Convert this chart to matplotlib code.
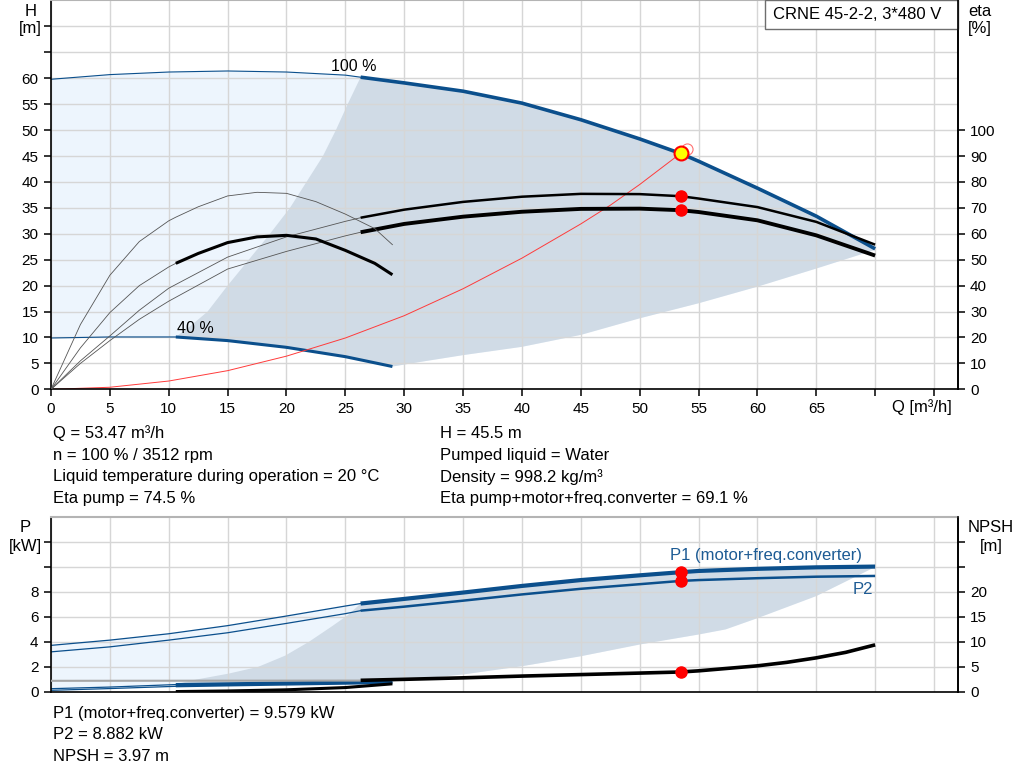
import numpy as np
import matplotlib.pyplot as plt
from matplotlib.patches import Rectangle

plt.rcParams['font.family'] = ['Liberation Sans', 'DejaVu Sans']
plt.rcParams['font.size'] = 12

# --- données (Q en m3/h) ---
# courbe QH à 100 % de vitesse
q_100 = [0, 5, 10, 15, 20, 25, 26.3, 30, 35, 40, 45, 50, 53.47, 55, 60, 65, 70]
h_100 = [59.8, 60.7, 61.2, 61.4, 61.2, 60.6, 60.2, 59.1, 57.5, 55.2, 52.0, 48.3, 45.5, 44.0, 38.8, 33.4, 27.1]

# courbe QH à 40 %
q_40 = [0, 5, 10.6, 15, 20, 25, 29]
h_40 = [9.9, 10.1, 10.1, 9.4, 8.1, 6.3, 4.4]

# limite basse de la plage de fonctionnement (QH)
q_edge = [29, 31.4, 35, 40, 45, 50, 55, 60, 65, 70]
h_edge = [4.4, 5.3, 6.6, 8.2, 10.5, 13.7, 16.6, 19.8, 23.3, 26.9]

# limite débit mini (QH)
q_min = [10.6, 12.0, 13.3, 15.0, 16.8, 18.6, 20.3, 21.7, 23.1, 24.2, 25.2, 26.3]
h_min = [10.1, 12.5, 15, 20, 25, 30, 35, 40, 45, 50, 55, 60.2]

# rendements (%)
q_eta100 = [0, 2.5, 5, 7.5, 10, 15, 20, 25, 26.3, 30, 35, 40, 45, 50, 53.47, 55, 60, 65, 70]
eta_pump_100 = [0, 11, 20.6, 30.5, 39, 51, 58.8, 64.8, 66.2, 69.3, 72.3, 74.3, 75.4, 75.3, 74.5, 73.6, 70.3, 64.6, 55.8]
eta_total_100 = [0, 10, 18.8, 27, 34, 46.4, 53.2, 59.2, 60.6, 63.8, 66.6, 68.5, 69.6, 69.7, 69.1, 68.4, 65.2, 59.4, 51.6]

q_eta40 = [0, 2.5, 5, 7.5, 10, 10.6, 12.5, 15, 17.5, 20, 22.5, 25, 27.5, 29]
eta_pump_40 = [0, 25, 44, 57, 65, 66.4, 70.4, 74.6, 76, 75.6, 72.4, 67.6, 62, 55.8]
eta_total_40 = [0, 16, 29.6, 40, 47.2, 48.6, 52.4, 56.6, 58.8, 59.4, 58, 53.6, 48.6, 44.2]

# courbe de réseau (rouge)
q_sys = [0, 5, 10, 15, 20, 25, 30, 35, 40, 42.5, 45, 47.5, 50, 53.47, 54.0]
h_sys = [0, 0.4, 1.6, 3.6, 6.4, 9.9, 14.2, 19.4, 25.3, 28.6, 31.9, 35.5, 39.5, 45.5, 46.3]

# point de fonctionnement
q_duty = 53.47
h_duty = 45.5
eta_pump_duty = 74.5
eta_total_duty = 69.1
p1_duty = 9.579
p2_duty = 8.882
npsh_duty = 3.97

# puissances (kW)
q_p100 = [0, 5, 10, 15, 20, 25, 26.3, 30, 35, 40, 45, 50, 53.47, 55, 60, 65, 70]
p1_100 = [3.72, 4.14, 4.65, 5.3, 6.07, 6.87, 7.07, 7.44, 7.95, 8.48, 8.95, 9.33, 9.58, 9.68, 9.85, 9.97, 10.03]
p2_100 = [3.2, 3.6, 4.14, 4.73, 5.48, 6.26, 6.5, 6.82, 7.3, 7.8, 8.25, 8.62, 8.88, 8.95, 9.1, 9.22, 9.28]

q_p40 = [0, 5, 10.6, 15, 20, 25, 29]
p1_40 = [0.25, 0.38, 0.58, 0.64, 0.71, 0.78, 0.84]
p2_40 = [0.12, 0.26, 0.44, 0.51, 0.58, 0.65, 0.71]

q_pedge = [29, 35, 40, 45, 50, 55, 57.3, 60, 65, 70]
p_edge = [0.84, 1.39, 2.05, 2.85, 3.79, 4.59, 5.0, 5.9, 7.67, 10.0]

q_pmin = [10.6, 11.7, 15.1, 17.6, 19.9, 21.9, 23.9, 25.3, 26.3]
p_min = [0.58, 0.87, 1.46, 2.0, 2.9, 4.0, 5.27, 6.2, 7.07]

# NPSH (m)
q_npsh_thin = [0, 26.3]
npsh_thin = [2.2, 2.25]
q_npsh100 = [26.3, 30, 35, 40, 45, 50, 53.47, 55, 60, 62.5, 65, 67.5, 70]
npsh_100 = [2.3, 2.5, 2.8, 3.15, 3.45, 3.75, 3.97, 4.2, 5.2, 5.9, 6.8, 7.9, 9.4]
q_npsh40 = [10.6, 15, 20, 25, 29]
npsh_40 = [0.05, 0.17, 0.4, 0.85, 1.6]

BLUE = '#0b4f8c'
LIGHT = '#edf5fd'
DARK = '#d0dbe6'
GRID = '#d6d6d6'
Q_SPLIT = 26.3
Q_SPLIT40 = 10.6


def split_plot(ax, q, y, q_split, color, lw_thin, lw_thick, thin_color=None):
    q = np.asarray(q)
    y = np.asarray(y)
    thin = q <= q_split
    thick = q >= q_split
    ax.plot(q[thin], y[thin], color=thin_color or color, lw=lw_thin)
    ax.plot(q[thick], y[thick], color=color, lw=lw_thick, solid_capstyle='butt')


def region(q_top, y_top, q_low, y_low, q_bot, y_bot, q_left=None, y_left=None, q_from=None):
    # polygone : courbe haute -> limite basse -> courbe mini vitesse (-> limite débit mini)
    q_top, y_top = np.asarray(q_top), np.asarray(y_top)
    q_bot, y_bot = np.asarray(q_bot), np.asarray(y_bot)
    if q_from is not None:
        m = q_top >= q_from
        q_top, y_top = q_top[m], y_top[m]
        m = q_bot >= q_left[0]
        q_bot, y_bot = q_bot[m], y_bot[m]
    xs = [q_top, np.asarray(q_low)[::-1], q_bot[::-1]]
    ys = [y_top, np.asarray(y_low)[::-1], y_bot[::-1]]
    if q_left is not None:
        xs.append(np.asarray(q_left))
        ys.append(np.asarray(y_left))
    return np.concatenate(xs), np.concatenate(ys)


fig = plt.figure(figsize=(10.24, 7.81), dpi=100)
ax = fig.add_axes([0.0498, 0.5015, 0.8853, 0.4979])
ax_eta = ax.twinx()
axp = fig.add_axes([0.0498, 0.1142, 0.8853, 0.2238])
ax_npsh = axp.twinx()

# ---------------- graphique QH ----------------
x, y = region(q_100, h_100, q_edge, h_edge, q_40, h_40)
ax.fill(x, y, color=LIGHT, lw=0, zorder=0.5)
x, y = region(q_100, h_100, q_edge, h_edge, q_40, h_40, q_min, h_min, q_from=Q_SPLIT)
ax.fill(x, y, color=DARK, lw=0, zorder=0.6)

split_plot(ax, q_100, h_100, Q_SPLIT, BLUE, 0.8, 2.6)
split_plot(ax, q_40, h_40, Q_SPLIT40, BLUE, 0.8, 2.2)
ax.text(23.8, 61.4, '100 %', ha='left', va='baseline', fontsize=11.5)
ax.text(10.7, 10.9, '40 %', ha='left', va='baseline', fontsize=11.5)

ax.plot(q_sys, h_sys, color='#ff3b3b', lw=0.7)
ax.plot(q_sys[-1], h_sys[-1], 'o', ms=8, mfc='none', mec='#ff7070', mew=0.8)
ax.plot(q_duty, h_duty, 'o', ms=10, mfc='#ffff00', mec='#ff0000', mew=1.5, zorder=5)

# rendements sur l'axe de droite
split_plot(ax_eta, q_eta100, eta_pump_100, Q_SPLIT, 'black', 0.6, 1.8, thin_color='#555555')
split_plot(ax_eta, q_eta100, eta_total_100, Q_SPLIT, 'black', 0.6, 2.8, thin_color='#555555')
ax_eta.plot(q_eta40, eta_pump_40, color='#555555', lw=0.6)
split_plot(ax_eta, q_eta40, eta_total_40, Q_SPLIT40, 'black', 0.6, 2.2, thin_color='#555555')
ax_eta.plot([q_duty, q_duty], [eta_pump_duty, eta_total_duty], 'o', ms=8, color='#ff0000', zorder=5)

ax.set_xlim(0, 77)
ax.set_ylim(0, 75)
ax_eta.set_ylim(0, 150)

ax.set_xticks(np.arange(0, 76, 5))
ax.set_xticklabels([str(v) if v <= 65 else '' for v in range(0, 76, 5)])
ax.set_yticks(np.arange(0, 71, 5))
ax.set_yticklabels([str(v) if v <= 60 else '' for v in range(0, 71, 5)])
ax_eta.set_yticks(np.arange(0, 101, 10))
ax.grid(True, color=GRID, lw=1)

# ---------------- graphique P / NPSH ----------------
x, y = region(q_p100, p1_100, q_pedge, p_edge, q_p40, p1_40)
axp.fill(x, y, color=LIGHT, lw=0, zorder=0.5)
x, y = region(q_p100, p1_100, q_pedge, p_edge, q_p40, p1_40, q_pmin, p_min, q_from=Q_SPLIT)
axp.fill(x, y, color=DARK, lw=0, zorder=0.6)

split_plot(axp, q_p100, p1_100, Q_SPLIT, BLUE, 0.9, 3.0)
split_plot(axp, q_p100, p2_100, Q_SPLIT, BLUE, 0.9, 1.8)
split_plot(axp, q_p40, p1_40, Q_SPLIT40, BLUE, 0.9, 2.2)
split_plot(axp, q_p40, p2_40, Q_SPLIT40, BLUE, 0.9, 1.5)
axp.plot([q_duty, q_duty], [p1_duty, p2_duty], 'o', ms=8, color='#ff0000', zorder=5)
axp.text(52.6, 10.9, 'P1 (motor+freq.converter)', color='#1d5b94', ha='left', va='center')
axp.text(68.1, 8.2, 'P2', color='#1d5b94', ha='left', va='center')

ax_npsh.plot(q_npsh_thin, npsh_thin, color='#a6a6a6', lw=1.5)
ax_npsh.plot(q_npsh100, npsh_100, color='black', lw=2.6, solid_capstyle='butt')
ax_npsh.plot(q_npsh40, npsh_40, color='black', lw=2.2, solid_capstyle='butt')
ax_npsh.plot(q_duty, npsh_duty, 'o', ms=8, color='#ff0000', zorder=5)

axp.set_xlim(0, 77)
axp.set_ylim(0, 14)
ax_npsh.set_ylim(0, 35)
axp.set_xticks(np.arange(0, 76, 5))
axp.set_xticklabels([])
axp.set_yticks(np.arange(0, 13, 2))
axp.set_yticklabels([str(v) if v <= 8 else '' for v in range(0, 13, 2)])
ax_npsh.set_yticks(np.arange(0, 31, 5))
ax_npsh.set_yticklabels([str(v) if v <= 20 else '' for v in range(0, 31, 5)])
axp.grid(True, color=GRID, lw=1)

# style des axes
for a in (ax, axp):
    a.spines['top'].set_color('#b4b4b4')
    a.spines['top'].set_linewidth(1.5)
    for s in ('left', 'bottom', 'right'):
        a.spines[s].set_linewidth(1.2)
        a.spines[s].set_color('black')
    a.tick_params(direction='out', length=5, width=1.1, pad=4, labelsize=11)
axp.tick_params(axis='x', length=0)
for a in (ax_eta, ax_npsh):
    for s in ('left', 'bottom', 'top'):
        a.spines[s].set_visible(False)
    a.spines['right'].set_linewidth(1.2)
    a.tick_params(direction='out', length=5, width=1.1, pad=4, labelsize=11)

# cartouche
ax.add_patch(Rectangle((0.788, 0.927), 0.212, 0.075, transform=ax.transAxes, facecolor='white',
                       edgecolor='#6e6e6e', lw=1, zorder=6, clip_on=False))
ax.text(0.796, 0.965, 'CRNE 45-2-2, 3*480 V', transform=ax.transAxes, ha='left', va='center', zorder=7)

# libellés d'axes
fig.text(30.5 / 1024, 1 - 20 / 781, 'H\n[m]', ha='center', va='center', linespacing=1.25)
fig.text(980 / 1024, 1 - 20 / 781, 'eta\n[%]', ha='center', va='center', linespacing=1.25)
fig.text(892 / 1024, 1 - 407 / 781, 'Q [m³/h]', ha='left', va='center')
fig.text(25 / 1024, 1 - 537 / 781, 'P\n[kW]', ha='center', va='center', linespacing=1.25)
fig.text(991 / 1024, 1 - 537 / 781, 'NPSH\n[m]', ha='center', va='center', linespacing=1.25)

# textes du point de fonctionnement
left_txt = ['Q = 53.47 m³/h', 'n = 100 % / 3512 rpm',
            'Liquid temperature during operation = 20 °C', 'Eta pump = 74.5 %']
right_txt = ['H = 45.5 m', 'Pumped liquid = Water', 'Density = 998.2 kg/m³',
             'Eta pump+motor+freq.converter = 69.1 %']
for i, (l, r) in enumerate(zip(left_txt, right_txt)):
    yy = 1 - (433.5 + 21.6 * i) / 781
    fig.text(53 / 1024, yy, l, ha='left', va='center')
    fig.text(440 / 1024, yy, r, ha='left', va='center')

bottom_txt = ['P1 (motor+freq.converter) = 9.579 kW', 'P2 = 8.882 kW', 'NPSH = 3.97 m']
for i, t in enumerate(bottom_txt):
    fig.text(53 / 1024, 1 - (713.5 + 21.3 * i) / 781, t, ha='left', va='center')

fig.savefig('out.png', dpi=100)
